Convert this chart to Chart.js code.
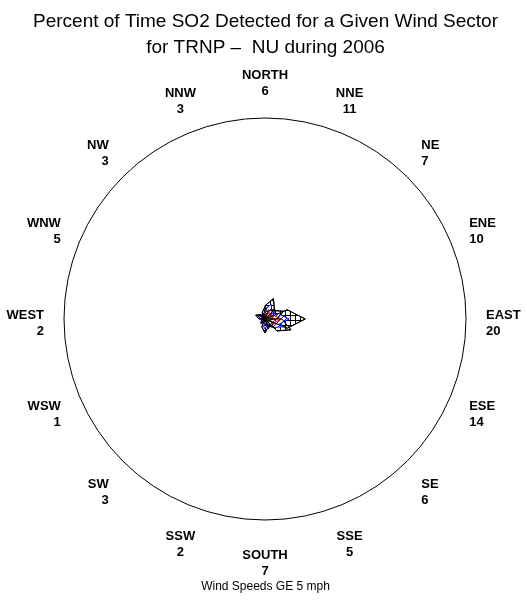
<!DOCTYPE html>
<html>
<head>
<meta charset="utf-8">
<script src="https://cdn.jsdelivr.net/npm/chart.js@4.4.0/dist/chart.umd.min.js"></script>
<style>
html, body { margin: 0; padding: 0; background: #fff; }
</style>
</head>
<body>
<canvas id="roseChart" width="527" height="608"></canvas>
<script>
var directions = ['NORTH', 'NNE', 'NE', 'ENE', 'EAST', 'ESE', 'SE', 'SSE', 'SOUTH', 'SSW', 'SW', 'WSW', 'WEST', 'WNW', 'NW', 'NNW'];
var percentTotal = [6, 11, 7, 10, 20, 14, 6, 5, 7, 2, 3, 1, 2, 5, 3, 3];
// speed class breakdown is only guessed from the colours inside the petals
var percentBlue = [4, 8, 5, 7, 12, 10, 4, 3.5, 5, 1.4, 2, 0.7, 1.4, 3.5, 2, 2];
var percentRed = [2.5, 5, 3, 4.5, 8, 6, 2.5, 2, 3, 0.9, 1.3, 0.4, 0.9, 2.2, 1.3, 1.3];
var percentGreen = [1.3, 2.5, 1.5, 2.2, 4, 3, 1.3, 1, 1.5, 0.4, 0.6, 0.2, 0.4, 1, 0.6, 0.6];

var STEPS = 16;
var n = directions.length * STEPS;

var labels = [];
for (var i = 0; i < n; i++) {
    labels.push(i % STEPS === 0 ? directions[i / STEPS] : '');
}

// one kite petal: side point, tip, side point, back through the centre
function petal(d, value) {
    var out = [];
    for (var i = 0; i < n; i++) out.push(null);
    var base = d * STEPS;
    out[base] = value;
    out[(base + 16) % n] = value * 0.6;
    out[(base - 16 + n) % n] = value * 0.6;
    out[(base + n / 2) % n] = 0;
    return out;
}

function hatch(color, kind) {
    var c = document.createElement('canvas');
    c.width = 5; c.height = 5;
    var g = c.getContext('2d');
    g.fillStyle = '#fff';
    g.fillRect(0, 0, 5, 5);
    g.strokeStyle = color;
    g.lineWidth = 1;
    g.beginPath();
    if (kind === 'grid') {
        g.moveTo(0.5, 0); g.lineTo(0.5, 5);
        g.moveTo(0, 0.5); g.lineTo(5, 0.5);
    } else if (kind === 'diag') {
        g.moveTo(0, 5); g.lineTo(5, 0);
    } else {
        g.moveTo(0, 0); g.lineTo(5, 5);
        g.moveTo(0, 5); g.lineTo(5, 0);
    }
    g.stroke();
    return g.createPattern(c, 'repeat');
}

var datasets = [];
function addPetals(values, fill, border, order) {
    for (var d = 0; d < values.length; d++) {
        datasets.push({
            data: petal(d, values[d]),
            backgroundColor: fill || 'rgba(0,0,0,0)',
            borderColor: border,
            borderWidth: 1,
            fill: !!fill,
            spanGaps: true,
            tension: 0,
            pointRadius: 0,
            order: order
        });
    }
}
addPetals(percentTotal, hatch('#000', 'grid'), '#000', 4);
addPetals(percentBlue, hatch('#0000ff', 'diag'), '#0000ff', 3);
addPetals(percentRed, hatch('#ff0000', 'cross'), '#ff0000', 2);
addPetals(percentGreen, hatch('#008000', 'cross'), '#008000', 1);
addPetals(percentTotal, null, '#000', 0);

var dirLabels = {
    id: 'dirLabels',
    afterDraw: function(chart) {
        var scale = chart.scales.r;
        var ctx = chart.ctx;
        ctx.save();
        ctx.fillStyle = '#000';
        ctx.font = 'bold 13px "Liberation Sans", Arial, sans-serif';
        ctx.textBaseline = 'middle';
        for (var d = 0; d < directions.length; d++) {
            var idx = d * STEPS;
            var px = scale.getPointPosition(idx, 221);
            var py = scale.getPointPosition(idx, 240);
            var s = Math.sin(d * Math.PI / 8);
            if (Math.abs(s) < 0.5) ctx.textAlign = 'center';
            else if (s > 0) ctx.textAlign = 'left';
            else ctx.textAlign = 'right';
            var y = py.y + 4;
            ctx.fillText(directions[d], px.x, y - 8);
            ctx.fillText(String(percentTotal[d]), px.x, y + 8);
        }
        ctx.restore();
    }
};

var ctx = document.getElementById('roseChart');
var roseChart = new Chart(ctx, {
    type: 'radar',
    data: { labels: labels, datasets: datasets },
    options: {
        responsive: false,
        animation: false,
        layout: { padding: { left: 4, right: 0, top: 0, bottom: 0 } },
        scales: {
            r: {
                min: 0,
                max: 100,
                ticks: { display: false, stepSize: 100 },
                grid: { circular: true, color: '#000', lineWidth: 1 },
                angleLines: { display: false },
                pointLabels: { display: false }
            }
        },
        plugins: {
            legend: { display: false },
            tooltip: { enabled: false },
            title: {
                display: true,
                text: ['Percent of Time SO2 Detected for a Given Wind Sector', 'for TRNP \u2013  NU during 2006'],
                color: '#000',
                font: { family: '"Liberation Sans", Arial, sans-serif', size: 19, weight: 'normal', lineHeight: 1.4 },
                padding: { top: 8, bottom: 56.8 }
            },
            subtitle: {
                display: true,
                position: 'bottom',
                text: 'Wind Speeds GE 5 mph',
                color: '#000',
                font: { family: '"Liberation Sans", Arial, sans-serif', size: 12, weight: 'normal' },
                padding: { top: 59.6, bottom: 14 }
            }
        }
    },
    plugins: [dirLabels]
});
</script>
</body>
</html>
